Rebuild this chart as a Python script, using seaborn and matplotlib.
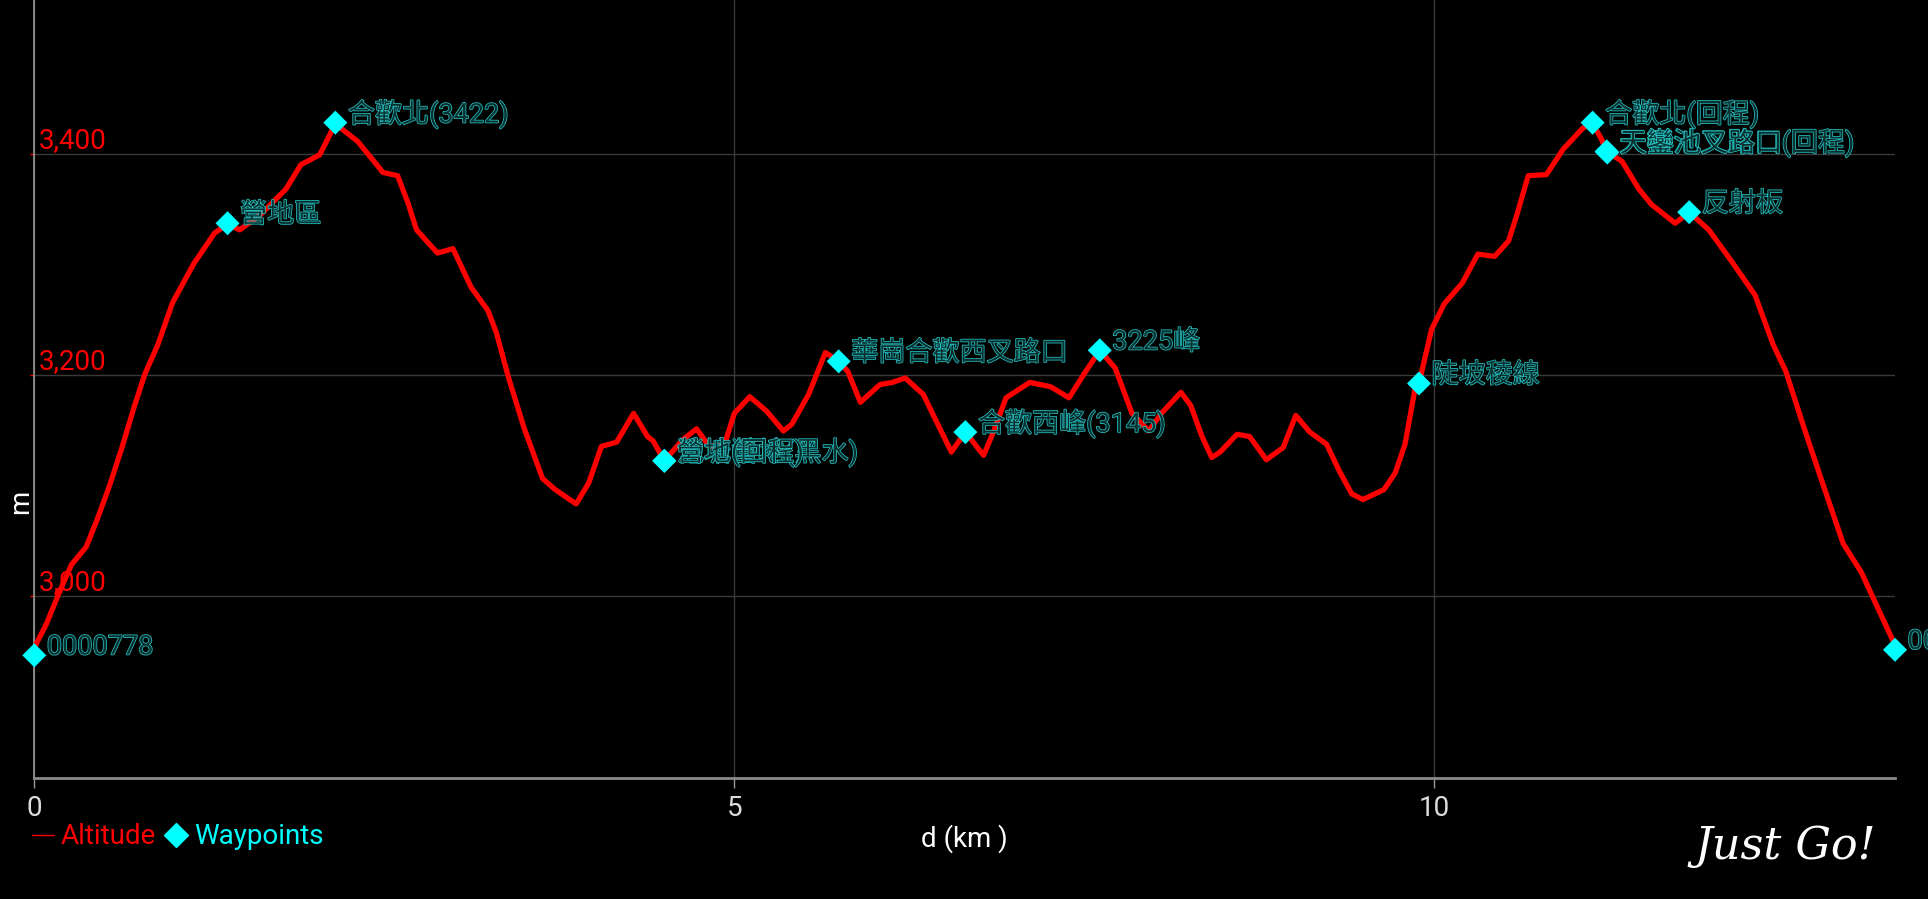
import numpy as np
import pandas as pd
import matplotlib
matplotlib.use("Agg")
import matplotlib.pyplot as plt
import matplotlib.patheffects as pe
from matplotlib.lines import Line2D
import seaborn as sns

# altitude profile (km, m)
dist_km = [0.0, 0.085, 0.175, 0.265, 0.37, 0.446, 0.536, 0.626, 0.716, 0.791,
           0.882, 0.987, 1.137, 1.287, 1.378, 1.468, 1.618, 1.798, 1.904, 2.039,
           2.15, 2.31, 2.40, 2.49, 2.595, 2.67, 2.73, 2.88, 2.99, 3.12,
           3.24, 3.30, 3.39, 3.50, 3.63, 3.72, 3.87, 3.96, 4.05, 4.16,
           4.28, 4.38, 4.42, 4.50, 4.63, 4.73, 4.82, 4.93, 5.00, 5.11,
           5.23, 5.35, 5.41, 5.53, 5.65, 5.745, 5.81, 5.90, 6.04, 6.13,
           6.22, 6.35, 6.43, 6.55, 6.65, 6.78, 6.85, 6.94, 7.11, 7.26,
           7.39, 7.51, 7.61, 7.72, 7.84, 7.96, 8.05, 8.19, 8.26, 8.34,
           8.41, 8.47, 8.59, 8.68, 8.80, 8.92, 9.01, 9.11, 9.23, 9.32,
           9.41, 9.49, 9.64, 9.72, 9.79, 9.86, 9.89, 9.98, 10.07, 10.20,
           10.31, 10.43, 10.53, 10.59, 10.67, 10.80, 10.92, 11.06, 11.13, 11.19,
           11.23, 11.34, 11.46, 11.55, 11.64, 11.72, 11.82, 11.96, 12.12, 12.29,
           12.42, 12.51, 12.65, 12.78, 12.92, 13.05, 13.17, 13.28]
alt_m = [2953, 2974, 3002, 3028, 3044, 3068, 3099, 3134, 3172, 3201,
         3227, 3265, 3300, 3328, 3336, 3331, 3345, 3368, 3390, 3399,
         3427, 3411, 3397, 3383, 3380, 3355, 3331, 3310, 3314, 3279,
         3258, 3238, 3196, 3151, 3106, 3096, 3083, 3102, 3135, 3139,
         3165, 3144, 3140, 3122, 3141, 3151, 3135, 3137, 3165, 3180,
         3167, 3149, 3155, 3182, 3220, 3212, 3203, 3175, 3191, 3193,
         3197, 3182, 3161, 3130, 3148, 3127, 3148, 3179, 3193, 3189,
         3179, 3203, 3222, 3206, 3165, 3149, 3165, 3184, 3172, 3144,
         3125, 3130, 3146, 3144, 3123, 3134, 3163, 3148, 3137, 3113,
         3092, 3087, 3096, 3111, 3137, 3186, 3192, 3241, 3264, 3283,
         3309, 3307, 3321, 3345, 3380, 3381, 3404, 3423, 3427, 3414,
         3402, 3393, 3368, 3354, 3345, 3337, 3347, 3331, 3303, 3272,
         3227, 3203, 3148, 3099, 3047, 3021, 2988, 2958]

# waypoints
wp_names = ["0000778", "營地區", "合歡北(3422)", "池塘營地(黑水)", "營地(回程)",
            "華崗合歡西叉路口", "合歡西峰(3145)", "3225峰", "陡坡稜線",
            "合歡北(回程)", "天巒池叉路口(回程)", "天鑾池叉路口", "反射板", "0000779"]
wp_km = [0.0, 1.38, 2.15, 4.50, 4.50, 5.745, 6.65, 7.61, 9.89,
         11.13, 11.23, 11.235, 11.82, 13.29]
wp_alt = [2946, 3337, 3428, 3122, 3122, 3212, 3148, 3222, 3192,
          3428, 3402, 3401, 3347, 2951]

y_ticks = [3000, 3200, 3400]
x_ticks = [0, 5, 10]

profile = pd.DataFrame({"d": dist_km, "alt": alt_m})
waypoints = pd.DataFrame({"d": wp_km, "alt": wp_alt, "name": wp_names})

sns.set_theme(style="dark")
plt.rcParams["font.family"] = ["Roboto", "Noto Sans CJK TC", "DejaVu Sans"]
plt.rcParams["figure.facecolor"] = "black"
plt.rcParams["axes.facecolor"] = "black"

fig = plt.figure(figsize=(19.28, 8.99), dpi=100)
ax = fig.add_axes([0.0178, 0.1346, 0.9651, 0.8654])
ax.set_facecolor("black")

sns.lineplot(data=profile, x="d", y="alt", color="red", linewidth=3.8,
             ax=ax, legend=False, zorder=3, solid_joinstyle="round",
             solid_capstyle="round")
sns.scatterplot(data=waypoints, x="d", y="alt", marker="D", s=150,
                color="#00ffff", edgecolor="none", ax=ax, legend=False,
                zorder=4, clip_on=False)

teal = "#25c2c2"
for name, x, y in zip(wp_names, wp_km, wp_alt):
    ax.annotate(name, (x, y), xytext=(9, 6), textcoords="offset points",
                ha="left", va="center", fontsize=19.5, color="#0a3030",
                path_effects=[pe.withStroke(linewidth=1.1, foreground=teal)],
                annotation_clip=False, zorder=5)

ax.set_xlim(0, 13.29)
ax.set_ylim(2835, 3539)
ax.set_xticks(x_ticks)
ax.set_yticks(y_ticks)
ax.set_yticklabels([f"{v:,}" for v in y_ticks])
ax.grid(True, color="#3a3a3a", linewidth=1)
for s in ["top", "right"]:
    ax.spines[s].set_visible(False)
ax.spines["bottom"].set_color("#8a8a8a")
ax.spines["bottom"].set_linewidth(2)
ax.spines["left"].set_color("#9a9a9a")
ax.spines["left"].set_linewidth(1.2)

ax.tick_params(axis="x", colors="#9a9a9a", length=7, width=1,
               labelsize=20, labelcolor="#dcdcdc", pad=5, bottom=True)
ax.tick_params(axis="y", colors="red", length=3, width=1, labelsize=20,
               labelcolor="red", pad=-6, left=True)
for lab in ax.get_yticklabels():
    lab.set_horizontalalignment("left")
    lab.set_verticalalignment("bottom")

ax.set_xlabel("d (km )", fontsize=20, color="white", labelpad=2)
ax.set_ylabel("m", fontsize=20, color="white")
ax.yaxis.set_label_coords(-0.0072, 0.355)
ax.yaxis.label.set_verticalalignment("center")

handles = [Line2D([], [], color="red", linewidth=1),
           Line2D([], [], color="#00ffff", marker="D", linestyle="none",
                  markersize=12)]
fig.legend(handles, ["Altitude", "Waypoints"], loc="center left",
           bbox_to_anchor=(0.0165, 0.069), ncol=2, frameon=False,
           fontsize=20, labelcolor=["red", "#00ffff"], handlelength=0.8,
           handletextpad=0.25, columnspacing=0.3, borderpad=0,
           borderaxespad=0)

fig.text(0.926, 0.058, "Just Go!", fontsize=32, color="white",
         family="DejaVu Serif", style="italic", ha="center", va="center")

fig.savefig("out.png", dpi=100, facecolor="black")
